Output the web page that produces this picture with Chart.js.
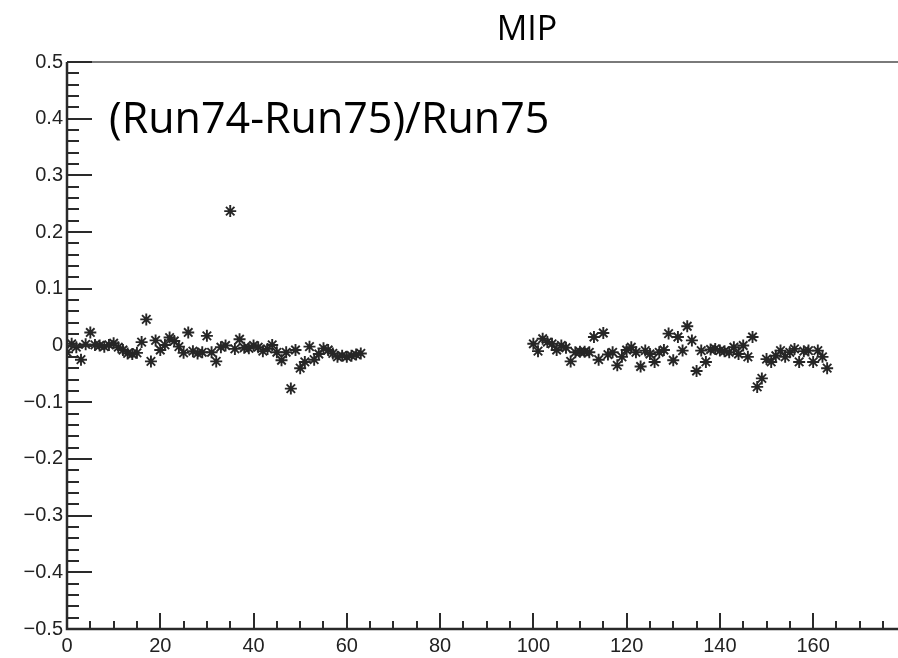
<!DOCTYPE html>
<html>
<head>
<meta charset="utf-8">
<script src="https://cdn.jsdelivr.net/npm/chart.js@4.4.1/dist/chart.umd.min.js"></script>
<style>
  html, body { margin: 0; padding: 0; background: #fff; }
  #wrap { width: 898px; height: 658px; }
</style>
</head>
<body>
<div id="wrap"><canvas id="c" width="898" height="658"></canvas></div>
<script>
// titles
const chartTitle = 'MIP';
const ratioLabel = '(Run74-Run75)/Run75';

// first block of channels
const channelsA = [0, 1, 2, 3, 4, 5, 6, 7, 8, 9, 10, 11, 12, 13, 14, 15,
  16, 17, 18, 19, 20, 21, 22, 23, 24, 25, 26, 27, 28, 29, 30, 31,
  32, 33, 34, 35, 36, 37, 38, 39, 40, 41, 42, 43, 44, 45, 46, 47,
  48, 49, 50, 51, 52, 53, 54, 55, 56, 57, 58, 59, 60, 61, 62, 63];
const diffA = [-0.012, 0.003, -0.003, -0.025, 0.002, 0.023, 0.001, 0.000,
  -0.002, 0.001, 0.004, -0.003, -0.008, -0.014, -0.015, -0.013,
  0.006, 0.046, -0.028, 0.009, -0.008, 0.001, 0.014, 0.008,
  -0.002, -0.013, 0.023, -0.010, -0.014, -0.012, 0.017, -0.012,
  -0.028, -0.003, 0.000, 0.237, -0.006, 0.011, -0.004, -0.005,
  0.000, -0.003, -0.010, -0.006, 0.001, -0.012, -0.026, -0.012,
  -0.076, -0.008, -0.040, -0.029, -0.002, -0.025, -0.015, -0.005,
  -0.008, -0.014, -0.020, -0.018, -0.020, -0.018, -0.016, -0.014];

// second block of channels
const channelsB = [100, 101, 102, 103, 104, 105, 106, 107, 108, 109, 110, 111,
  112, 113, 114, 115, 116, 117, 118, 119, 120, 121, 122, 123,
  124, 125, 126, 127, 128, 129, 130, 131, 132, 133, 134, 135,
  136, 137, 138, 139, 140, 141, 142, 143, 144, 145, 146, 147,
  148, 149, 150, 151, 152, 153, 154, 155, 156, 157, 158, 159,
  160, 161, 162, 163];
const diffB = [0.003, -0.010, 0.012, 0.006, 0.003, -0.008, 0.000, -0.004,
  -0.028, -0.012, -0.011, -0.011, -0.012, 0.015, -0.025, 0.022,
  -0.016, -0.012, -0.035, -0.020, -0.008, -0.003, -0.012, -0.037,
  -0.009, -0.015, -0.029, -0.012, -0.008, 0.021, -0.026, 0.015,
  -0.009, 0.034, 0.009, -0.045, -0.009, -0.029, -0.007, -0.006,
  -0.009, -0.010, -0.012, -0.003, -0.015, 0.000, -0.020, 0.015,
  -0.073, -0.058, -0.024, -0.029, -0.018, -0.009, -0.020, -0.012,
  -0.006, -0.029, -0.010, -0.009, -0.029, -0.009, -0.020, -0.040];

// axes
const xTickValues = [0, 20, 40, 60, 80, 100, 120, 140, 160];
const yTickValues = [-0.5, -0.4, -0.3, -0.2, -0.1, 0, 0.1, 0.2, 0.3, 0.4, 0.5];
const xMin = 0, xMax = 176.5, xMinorStep = 5;
const yMin = -0.5, yMax = 0.5, yMinorStep = 0.02;

const toPoints = (xs, ys) => xs.map((x, i) => ({ x: x, y: ys[i] }));

const markerStyle = {
  showLine: false,
  pointStyle: 'star',
  pointRadius: 6,
  pointBorderWidth: 1.9,
  pointBorderColor: '#262626',
  pointBackgroundColor: 'rgba(0,0,0,0)',
  pointHoverRadius: 6
};

// inward ROOT-style ticks, frame and texts
const rootFrame = {
  id: 'rootFrame',
  afterDraw(chart) {
    const ctx = chart.ctx;
    const xa = chart.scales.x, ya = chart.scales.y;
    const { left, top, bottom } = chart.chartArea;
    const right = chart.width;
    ctx.save();

    // top frame line
    ctx.strokeStyle = '#7a7a7a';
    ctx.lineWidth = 2;
    ctx.beginPath();
    ctx.moveTo(left, top);
    ctx.lineTo(right, top);
    ctx.stroke();

    ctx.strokeStyle = '#2a2a2a';
    ctx.lineWidth = 2;
    // y ticks
    const ny = Math.round((yMax - yMin) / yMinorStep);
    for (let i = 0; i <= ny; i++) {
      const py = Math.round(ya.getPixelForValue(yMin + i * yMinorStep));
      const len = i % 5 === 0 ? 25 : 12;
      ctx.beginPath();
      ctx.moveTo(left, py);
      ctx.lineTo(left + len, py);
      ctx.stroke();
    }
    // x ticks, up to the canvas edge
    for (let v = xMin; xa.getPixelForValue(v) <= right; v += xMinorStep) {
      const px = Math.round(xa.getPixelForValue(v));
      const len = v % 20 === 0 ? 16 : 8;
      ctx.beginPath();
      ctx.moveTo(px, bottom);
      ctx.lineTo(px, bottom - len);
      ctx.stroke();
    }
    // axis lines
    ctx.lineWidth = 2.5;
    ctx.beginPath();
    ctx.moveTo(left, top);
    ctx.lineTo(left, bottom);
    ctx.lineTo(right, bottom);
    ctx.stroke();

    // texts
    ctx.fillStyle = '#000';
    ctx.textBaseline = 'alphabetic';
    ctx.textAlign = 'center';
    ctx.font = '34px "Open Sans"';
    ctx.fillText(chartTitle, 527, 40);
    ctx.textAlign = 'left';
    ctx.font = '43px "Open Sans"';
    ctx.fillText(ratioLabel, 109, 133);
    ctx.restore();
  }
};

const fmt = v => {
  const s = String(Math.round(v * 10) / 10);
  return s.replace('-', '\u2212');
};

new Chart(document.getElementById('c'), {
  type: 'scatter',
  data: {
    datasets: [
      Object.assign({ label: 'ch 0-63', data: toPoints(channelsA, diffA) }, markerStyle),
      Object.assign({ label: 'ch 100-163', data: toPoints(channelsB, diffB) }, markerStyle)
    ]
  },
  options: {
    responsive: false,
    animation: false,
    layout: { padding: { top: 62, right: 0, left: 0, bottom: 0 } },
    plugins: { legend: { display: false }, tooltip: { enabled: false }, title: { display: false } },
    scales: {
      x: {
        type: 'linear',
        min: xMin, max: xMax,
        afterBuildTicks: s => { s.ticks = xTickValues.map(v => ({ value: v })); },
        afterFit: s => { s.height = 29; },
        grid: { display: false, drawTicks: false },
        border: { display: false },
        ticks: {
          autoSkip: false, maxRotation: 0, padding: 5,
          color: '#222', font: { family: 'Liberation Sans', size: 20 },
          callback: v => fmt(v)
        }
      },
      y: {
        type: 'linear',
        min: yMin, max: yMax,
        afterBuildTicks: s => { s.ticks = yTickValues.map(v => ({ value: v })); },
        afterFit: s => { s.width = 67; },
        grid: { display: false, drawTicks: false },
        border: { display: false },
        ticks: {
          autoSkip: false, padding: 4,
          color: '#222', font: { family: 'Liberation Sans', size: 20 },
          callback: v => fmt(v)
        }
      }
    }
  },
  plugins: [rootFrame]
});
</script>
</body>
</html>
